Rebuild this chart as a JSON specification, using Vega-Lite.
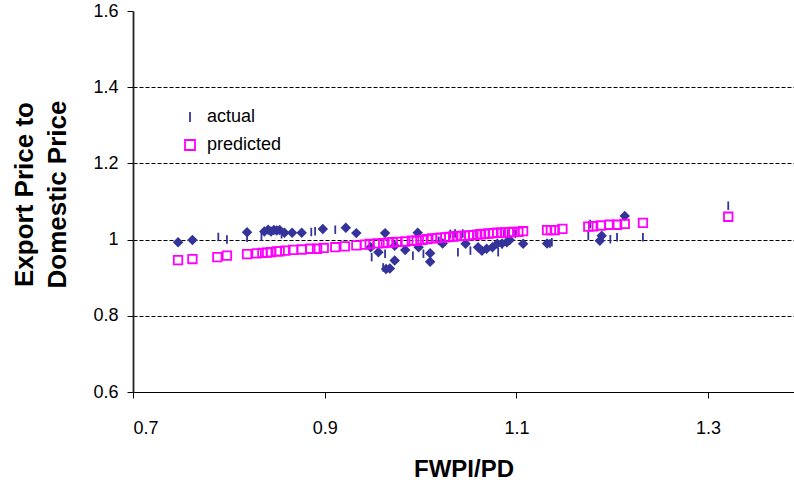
{
  "$schema": "https://vega.github.io/schema/vega-lite/v6.json",
  "width": 661,
  "height": 381,
  "autosize": {"type": "none"},
  "padding": {"left": 133, "top": 11, "right": 0, "bottom": 91},
  "background": "white",
  "config": {"view": {"stroke": null}, "font": "Liberation Sans"},
  "datasets": {
    "diamonds": [
      {"x": 0.747, "y": 0.993}, {"x": 0.762, "y": 0.999}, {"x": 0.819, "y": 1.019}, {"x": 0.837, "y": 1.021},
      {"x": 0.841, "y": 1.026}, {"x": 0.844, "y": 1.021}, {"x": 0.847, "y": 1.025}, {"x": 0.850, "y": 1.024},
      {"x": 0.853, "y": 1.025}, {"x": 0.858, "y": 1.018}, {"x": 0.866, "y": 1.018}, {"x": 0.876, "y": 1.018},
      {"x": 0.898, "y": 1.028}, {"x": 0.922, "y": 1.031}, {"x": 0.933, "y": 1.017}, {"x": 0.948, "y": 0.980},
      {"x": 0.956, "y": 0.967}, {"x": 0.963, "y": 1.017}, {"x": 0.973, "y": 0.984}, {"x": 0.984, "y": 0.973},
      {"x": 0.997, "y": 1.018}, {"x": 0.998, "y": 0.980}, {"x": 1.010, "y": 0.964}, {"x": 1.010, "y": 0.942},
      {"x": 0.973, "y": 0.945}, {"x": 0.968, "y": 0.924}, {"x": 0.964, "y": 0.923}, {"x": 1.023, "y": 0.990},
      {"x": 1.047, "y": 0.989}, {"x": 1.060, "y": 0.980}, {"x": 1.064, "y": 0.971}, {"x": 1.069, "y": 0.976},
      {"x": 1.075, "y": 0.980}, {"x": 1.080, "y": 0.989}, {"x": 1.085, "y": 0.990}, {"x": 1.090, "y": 0.993},
      {"x": 1.093, "y": 0.999}, {"x": 1.107, "y": 0.989}, {"x": 1.132, "y": 0.990}, {"x": 1.187, "y": 0.997},
      {"x": 1.189, "y": 1.010}, {"x": 1.213, "y": 1.062}
    ],
    "series": [
      {"series": "actual", "x": 0.789, "y": 1.007}, {"series": "actual", "x": 0.798, "y": 1.000},
      {"series": "actual", "x": 0.819, "y": 1.005}, {"series": "actual", "x": 0.834, "y": 1.008},
      {"series": "actual", "x": 0.855, "y": 1.014}, {"series": "actual", "x": 0.886, "y": 1.020},
      {"series": "actual", "x": 0.890, "y": 1.022}, {"series": "actual", "x": 0.911, "y": 1.026},
      {"series": "actual", "x": 0.949, "y": 0.954}, {"series": "actual", "x": 0.963, "y": 0.963},
      {"series": "actual", "x": 0.961, "y": 0.927}, {"series": "actual", "x": 0.992, "y": 0.958},
      {"series": "actual", "x": 1.003, "y": 0.963}, {"series": "actual", "x": 1.019, "y": 0.997},
      {"series": "actual", "x": 1.031, "y": 1.015}, {"series": "actual", "x": 1.036, "y": 1.016},
      {"series": "actual", "x": 1.039, "y": 0.967}, {"series": "actual", "x": 1.044, "y": 1.016},
      {"series": "actual", "x": 1.052, "y": 0.971}, {"series": "actual", "x": 1.058, "y": 1.016},
      {"series": "actual", "x": 1.071, "y": 1.013}, {"series": "actual", "x": 1.081, "y": 0.967},
      {"series": "actual", "x": 1.085, "y": 0.988}, {"series": "actual", "x": 1.087, "y": 1.015},
      {"series": "actual", "x": 1.091, "y": 1.015}, {"series": "actual", "x": 1.099, "y": 1.015},
      {"series": "actual", "x": 1.135, "y": 0.990}, {"series": "actual", "x": 1.137, "y": 0.993},
      {"series": "actual", "x": 1.175, "y": 1.010}, {"series": "actual", "x": 1.177, "y": 1.041},
      {"series": "actual", "x": 1.198, "y": 1.001}, {"series": "actual", "x": 1.205, "y": 1.006},
      {"series": "actual", "x": 1.232, "y": 1.006}, {"series": "actual", "x": 1.321, "y": 1.089},
      {"series": "predicted", "x": 0.747, "y": 0.946}, {"series": "predicted", "x": 0.762, "y": 0.949},
      {"series": "predicted", "x": 0.788, "y": 0.954}, {"series": "predicted", "x": 0.798, "y": 0.958},
      {"series": "predicted", "x": 0.819, "y": 0.962}, {"series": "predicted", "x": 0.829, "y": 0.964},
      {"series": "predicted", "x": 0.835, "y": 0.965}, {"series": "predicted", "x": 0.840, "y": 0.966},
      {"series": "predicted", "x": 0.844, "y": 0.967}, {"series": "predicted", "x": 0.850, "y": 0.969},
      {"series": "predicted", "x": 0.853, "y": 0.969}, {"series": "predicted", "x": 0.859, "y": 0.971},
      {"series": "predicted", "x": 0.867, "y": 0.973}, {"series": "predicted", "x": 0.876, "y": 0.974},
      {"series": "predicted", "x": 0.885, "y": 0.976}, {"series": "predicted", "x": 0.892, "y": 0.976},
      {"series": "predicted", "x": 0.899, "y": 0.978}, {"series": "predicted", "x": 0.911, "y": 0.980},
      {"series": "predicted", "x": 0.921, "y": 0.982}, {"series": "predicted", "x": 0.933, "y": 0.985},
      {"series": "predicted", "x": 0.942, "y": 0.987}, {"series": "predicted", "x": 0.947, "y": 0.989},
      {"series": "predicted", "x": 0.955, "y": 0.990}, {"series": "predicted", "x": 0.961, "y": 0.991},
      {"series": "predicted", "x": 0.966, "y": 0.992}, {"series": "predicted", "x": 0.971, "y": 0.993},
      {"series": "predicted", "x": 0.976, "y": 0.994}, {"series": "predicted", "x": 0.984, "y": 0.995},
      {"series": "predicted", "x": 0.991, "y": 0.997}, {"series": "predicted", "x": 0.996, "y": 0.997},
      {"series": "predicted", "x": 1.002, "y": 0.999}, {"series": "predicted", "x": 1.007, "y": 1.001},
      {"series": "predicted", "x": 1.012, "y": 1.003}, {"series": "predicted", "x": 1.017, "y": 1.004},
      {"series": "predicted", "x": 1.021, "y": 1.005}, {"series": "predicted", "x": 1.026, "y": 1.006},
      {"series": "predicted", "x": 1.030, "y": 1.007}, {"series": "predicted", "x": 1.034, "y": 1.008},
      {"series": "predicted", "x": 1.038, "y": 1.009}, {"series": "predicted", "x": 1.042, "y": 1.010},
      {"series": "predicted", "x": 1.046, "y": 1.010}, {"series": "predicted", "x": 1.051, "y": 1.011},
      {"series": "predicted", "x": 1.055, "y": 1.012}, {"series": "predicted", "x": 1.059, "y": 1.013},
      {"series": "predicted", "x": 1.063, "y": 1.014}, {"series": "predicted", "x": 1.067, "y": 1.015},
      {"series": "predicted", "x": 1.071, "y": 1.016}, {"series": "predicted", "x": 1.076, "y": 1.017},
      {"series": "predicted", "x": 1.080, "y": 1.018}, {"series": "predicted", "x": 1.084, "y": 1.018},
      {"series": "predicted", "x": 1.088, "y": 1.019}, {"series": "predicted", "x": 1.092, "y": 1.019},
      {"series": "predicted", "x": 1.096, "y": 1.020}, {"series": "predicted", "x": 1.102, "y": 1.020},
      {"series": "predicted", "x": 1.107, "y": 1.022}, {"series": "predicted", "x": 1.132, "y": 1.025},
      {"series": "predicted", "x": 1.136, "y": 1.025}, {"series": "predicted", "x": 1.140, "y": 1.025},
      {"series": "predicted", "x": 1.148, "y": 1.028}, {"series": "predicted", "x": 1.175, "y": 1.034},
      {"series": "predicted", "x": 1.180, "y": 1.035}, {"series": "predicted", "x": 1.188, "y": 1.037},
      {"series": "predicted", "x": 1.197, "y": 1.039}, {"series": "predicted", "x": 1.205, "y": 1.039},
      {"series": "predicted", "x": 1.213, "y": 1.041}, {"series": "predicted", "x": 1.232, "y": 1.044},
      {"series": "predicted", "x": 1.321, "y": 1.060}
    ]
  },
  "layer": [
    {
      "data": {"name": "diamonds"},
      "mark": {"type": "point", "shape": "diamond", "filled": true, "color": "#333399", "size": 110, "opacity": 1},
      "encoding": {
        "x": {
          "field": "x", "type": "quantitative",
          "scale": {"domain": [0.7, 1.3896], "nice": false, "zero": false},
          "axis": {
            "values": [0.7, 0.9, 1.1, 1.3], "format": ".1f", "grid": false,
            "title": "FWPI/PD", "titleFontSize": 24, "titleFontWeight": "bold", "titleColor": "black",
            "titleY": 84, "titleBaseline": "alphabetic",
            "labelFontSize": 18, "labelColor": "black", "labelPadding": 21,
            "tickSize": 6, "tickColor": "black", "domainColor": "black", "domainWidth": 1.2
          }
        },
        "y": {
          "field": "y", "type": "quantitative",
          "scale": {"domain": [0.6, 1.6], "nice": false, "zero": false},
          "axis": {
            "values": [0.6, 0.8, 1, 1.2, 1.4, 1.6], "format": "~g",
            "grid": true, "gridColor": "black", "gridDash": [4, 2], "gridWidth": 1,
            "gridOpacity": {"condition": {"test": "datum.value > 1.55 || datum.value < 0.65", "value": 0}, "value": 1},
            "title": ["Export Price to", "Domestic Price"],
            "titleFontSize": 26, "titleFontWeight": "bold", "titleColor": "black",
            "titleAngle": -90, "titleX": -122, "titleY": 183, "titleAlign": "center", "titleBaseline": "top", "titleLineHeight": 33,
            "labelFontSize": 18, "labelColor": "black", "labelPadding": 9,
            "tickSize": 6, "tickColor": "black", "domainColor": "#222222", "domainWidth": 1.8
          }
        }
      }
    },
    {
      "data": {"name": "series"},
      "mark": {"type": "point", "filled": false, "size": 72, "strokeWidth": 1.8, "opacity": 1},
      "encoding": {
        "x": {"field": "x", "type": "quantitative"},
        "y": {"field": "y", "type": "quantitative"},
        "color": {
          "field": "series", "type": "nominal",
          "scale": {"domain": ["actual", "predicted"], "range": ["#333399", "#FF00FF"]},
          "legend": {"title": null, "orient": "none", "legendX": 48, "legendY": 97, "padding": 0,
            "labelFontSize": 18, "labelColor": "black", "labelOffset": 8, "rowPadding": 10, "symbolStrokeWidth": 1.8}
        },
        "shape": {
          "field": "series", "type": "nominal",
          "scale": {"domain": ["actual", "predicted"], "range": ["M0,-1L0,1", "square"]},
          "legend": {"title": null, "orient": "none", "legendX": 48, "legendY": 97, "padding": 0,
            "labelFontSize": 18, "labelColor": "black", "labelOffset": 8, "rowPadding": 10, "symbolStrokeWidth": 1.8}
        }
      }
    }
  ]
}
